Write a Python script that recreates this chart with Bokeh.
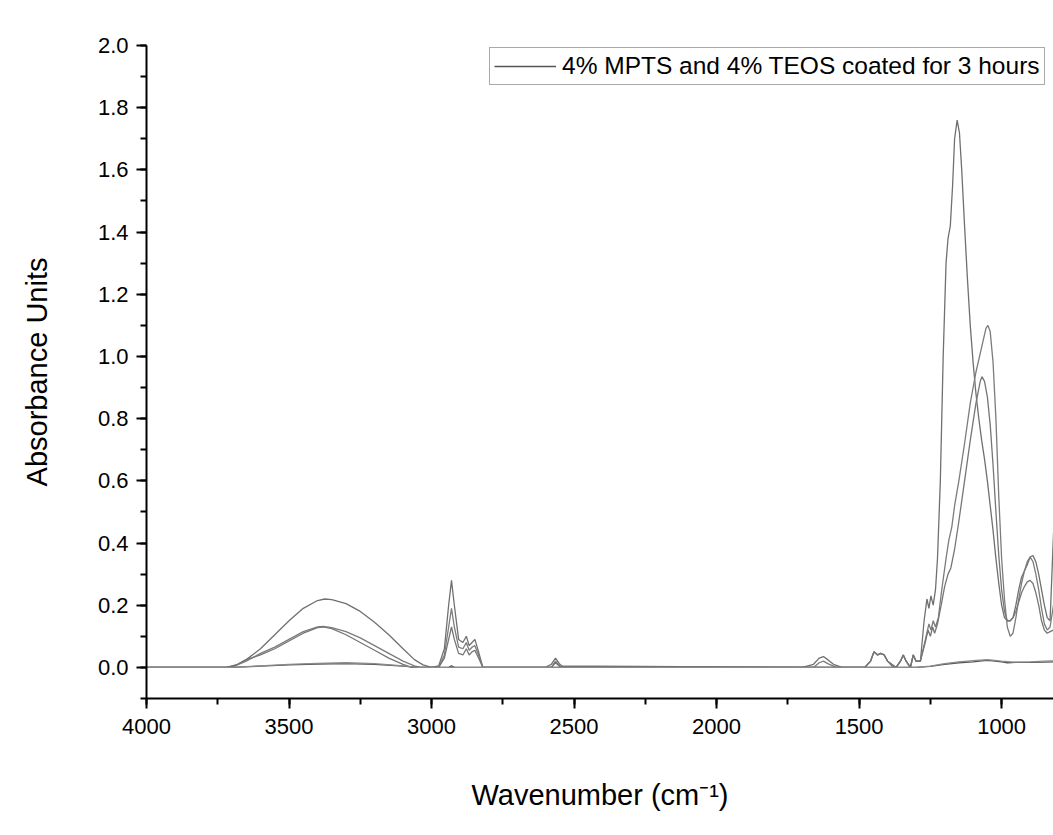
from bokeh.plotting import figure
from bokeh.models import Range1d, SingleIntervalTicker, NumeralTickFormatter, Legend, LegendItem
from bokeh.embed import file_html
from bokeh.resources import INLINE

# ---- data (wavenumber, absorbance) ----
wn_a = [4000, 3720, 3680, 3650, 3600, 3550, 3500, 3450, 3400, 3375, 3350, 3300, 3250, 3200, 3150, 3100,
        3060, 3030, 3000, 2975, 2955, 2940, 2930, 2920, 2905, 2890, 2878, 2868, 2858, 2848, 2835, 2820,
        2600, 2580, 2565, 2550, 2535, 1700, 1660, 1640, 1625, 1610, 1590, 1560, 1480, 1460, 1448, 1435,
        1425, 1412, 1400, 1385, 1370, 1355, 1345, 1335, 1320, 1310, 1300, 1285, 1272, 1262, 1255, 1248,
        1240, 1232, 1225, 1215, 1205, 1195, 1188, 1180, 1172, 1165, 1156, 1148, 1140, 1130, 1120, 1110,
        1100, 1090, 1080, 1070, 1060, 1050, 1040, 1030, 1020, 1010, 1000, 990, 980, 970, 960, 950, 940,
        930, 920, 910, 900, 890, 880, 870, 860, 850, 840, 830, 818, 800]
abs_a = [0, 0, 0.01, 0.025, 0.06, 0.105, 0.15, 0.19, 0.215, 0.22, 0.218, 0.205, 0.18, 0.145, 0.105, 0.06,
         0.025, 0.008, 0, 0.005, 0.06, 0.2, 0.28, 0.2, 0.09, 0.08, 0.10, 0.07, 0.08, 0.09, 0.05, 0,
         0, 0.01, 0.03, 0.01, 0, 0, 0.01, 0.03, 0.035, 0.025, 0.01, 0, 0, 0.02, 0.05, 0.04,
         0.045, 0.04, 0.02, 0.005, 0, 0.02, 0.04, 0.02, 0, 0.04, 0.02, 0.02, 0.15, 0.22, 0.19, 0.23,
         0.2, 0.25, 0.35, 0.6, 1.0, 1.3, 1.38, 1.42, 1.55, 1.7, 1.76, 1.72, 1.6, 1.42, 1.25, 1.1,
         0.98, 0.88, 0.8, 0.73, 0.67, 0.6, 0.52, 0.44, 0.35, 0.27, 0.2, 0.16, 0.15, 0.15, 0.16, 0.2, 0.25,
         0.29, 0.31, 0.33, 0.355, 0.36, 0.34, 0.3, 0.25, 0.2, 0.16, 0.15, 0.43, 0.55]

wn_b = [4000, 3720, 3690, 3650, 3600, 3550, 3500, 3450, 3400, 3380, 3350, 3300, 3250, 3200, 3150, 3100,
        3060, 3040, 2975, 2955, 2940, 2930, 2920, 2905, 2890, 2878, 2868, 2858, 2848, 2835, 2820,
        2580, 2565, 2550, 1660, 1640, 1625, 1610, 1580, 1480, 1460, 1448, 1435, 1425, 1412, 1400, 1370,
        1355, 1345, 1335, 1320, 1310, 1300, 1285, 1265, 1255, 1248, 1240, 1232, 1222, 1210, 1195, 1185,
        1175, 1165, 1150, 1130, 1110, 1090, 1070, 1055, 1048, 1040, 1030, 1020, 1010, 1000, 990, 980,
        970, 960, 950, 940, 930, 920, 910, 900, 890, 880, 870, 860, 850, 840, 830, 818, 800]
abs_b = [0, 0, 0.005, 0.02, 0.045, 0.065, 0.09, 0.115, 0.13, 0.132, 0.128, 0.115, 0.095, 0.07, 0.045, 0.02,
         0.005, 0, 0, 0.04, 0.13, 0.19, 0.13, 0.065, 0.06, 0.08, 0.055, 0.065, 0.07, 0.04, 0,
         0, 0.02, 0.005, 0, 0.015, 0.02, 0.012, 0, 0, 0.02, 0.05, 0.04, 0.045, 0.04, 0.02, 0,
         0.02, 0.04, 0.02, 0, 0.04, 0.02, 0.02, 0.1, 0.14, 0.12, 0.15, 0.13, 0.16, 0.25, 0.35, 0.41,
         0.45, 0.52, 0.6, 0.72, 0.85, 0.95, 1.03, 1.09, 1.10, 1.08, 0.98, 0.8, 0.55, 0.35, 0.22, 0.13,
         0.10, 0.11, 0.16, 0.22, 0.27, 0.31, 0.34, 0.355, 0.34, 0.3, 0.25, 0.19, 0.14, 0.12, 0.13, 0.2, 0.3]

wn_c = [4000, 3720, 3690, 3650, 3600, 3550, 3500, 3450, 3400, 3380, 3350, 3300, 3250, 3200, 3150, 3100,
        3070, 2975, 2955, 2940, 2930, 2920, 2905, 2890, 2878, 2868, 2858, 2848, 2835, 2820,
        2580, 2565, 2550, 1480, 1460, 1448, 1435, 1425, 1412, 1400, 1370, 1355, 1345, 1335, 1320, 1310,
        1300, 1285, 1268, 1258, 1250, 1242, 1235, 1225, 1212, 1200, 1188, 1178, 1165, 1150, 1130, 1110,
        1090, 1075, 1069, 1060, 1050, 1040, 1030, 1020, 1010, 1000, 990, 980, 970, 960, 950, 940, 930,
        920, 910, 900, 890, 880, 870, 860, 850, 840, 830, 818, 800]
abs_c = [0, 0, 0.005, 0.025, 0.04, 0.06, 0.085, 0.11, 0.128, 0.13, 0.125, 0.105, 0.08, 0.055, 0.03, 0.01,
         0, 0, 0.03, 0.09, 0.13, 0.09, 0.045, 0.04, 0.06, 0.04, 0.05, 0.055, 0.03, 0,
         0, 0.015, 0.003, 0, 0.02, 0.05, 0.04, 0.045, 0.04, 0.02, 0, 0.02, 0.04, 0.02, 0, 0.04,
         0.02, 0.02, 0.08, 0.12, 0.1, 0.13, 0.11, 0.14, 0.2, 0.26, 0.3, 0.32, 0.38, 0.47, 0.6, 0.73,
         0.85, 0.92, 0.935, 0.92, 0.87, 0.78, 0.65, 0.5, 0.36, 0.25, 0.18, 0.15, 0.15, 0.16, 0.18, 0.21, 0.24,
         0.26, 0.275, 0.28, 0.27, 0.24, 0.2, 0.15, 0.12, 0.11, 0.115, 0.12, 0.14]

wn_d = [4000, 3700, 3600, 3500, 3400, 3300, 3200, 3100, 3050, 2940, 2930, 2920, 1300, 1250, 1200, 1150,
        1100, 1060, 1040, 1000, 980, 950, 900, 850, 818, 800]
abs_d = [0, 0, 0.004, 0.008, 0.011, 0.012, 0.01, 0.004, 0, 0, 0.005, 0, 0, 0.003, 0.01, 0.015,
         0.018, 0.022, 0.022, 0.018, 0.015, 0.016, 0.016, 0.017, 0.018, 0.018]

wn_e = [4000, 3700, 3600, 3500, 3400, 3300, 3200, 3100, 3050, 1300, 1250, 1200, 1150, 1100, 1050, 1000,
        960, 900, 850, 818, 800]
abs_e = [0, 0, 0.005, 0.01, 0.013, 0.015, 0.012, 0.005, 0, 0, 0.004, 0.012, 0.018, 0.022, 0.025, 0.02,
         0.017, 0.018, 0.02, 0.021, 0.021]

legend_label = "4% MPTS and 4% TEOS coated for 3 hours"
x_title = "Wavenumber (cm\u207b\u00b9)"
y_title = "Absorbance Units"

p = figure(width=1053, height=835, output_backend="svg", toolbar_location=None,
           x_range=Range1d(4000, 818), y_range=Range1d(-0.1, 2.0),
           min_border_left=146, min_border_right=0, min_border_top=45, min_border_bottom=137)

p.outline_line_color = None
p.xgrid.visible = False
p.ygrid.visible = False
p.background_fill_color = "white"
p.border_fill_color = "white"

ra = p.line(wn_a, abs_a, line_color="#707070", line_width=1.3)
rb = p.line(wn_b, abs_b, line_color="#7c7c7c", line_width=1.3)
rc = p.line(wn_c, abs_c, line_color="#767676", line_width=1.3)
rd = p.line(wn_d, abs_d, line_color="#555555", line_width=1.3)
re_ = p.line(wn_e, abs_e, line_color="#8a8a8a", line_width=1.3)

p.xaxis.ticker = SingleIntervalTicker(interval=500, num_minor_ticks=2)
p.yaxis.ticker = SingleIntervalTicker(interval=0.2, num_minor_ticks=2)
p.xaxis.formatter = NumeralTickFormatter(format="0")
p.yaxis.formatter = NumeralTickFormatter(format="0.0")

for ax in (p.xaxis[0], p.yaxis[0]):
    ax.axis_line_width = 2
    ax.axis_line_color = "black"
    ax.major_tick_line_width = 2
    ax.minor_tick_line_width = 2
    ax.major_tick_out = 10
    ax.major_tick_in = 0
    ax.minor_tick_out = 6
    ax.minor_tick_in = 0
    ax.major_label_text_font = "Liberation Sans"
    ax.major_label_text_font_size = "22px"
    ax.major_label_text_color = "black"
    ax.axis_label_text_font = "Liberation Sans"
    ax.axis_label_text_font_size = "29px"
    ax.axis_label_text_font_style = "normal"
    ax.axis_label_text_color = "black"

p.xaxis.axis_label = x_title
p.yaxis.axis_label = y_title
p.xaxis.major_label_standoff = 10
p.yaxis.major_label_standoff = 8
p.xaxis.axis_label_standoff = 42
p.yaxis.axis_label_standoff = 42

legend = Legend(items=[LegendItem(label=legend_label, renderers=[rd])],
                location=(343, 613), orientation="vertical",
                border_line_color="#555555", border_line_width=1,
                background_fill_color="white", background_fill_alpha=1,
                label_text_font="Liberation Sans", label_text_font_size="24.5px",
                label_text_color="black", glyph_width=62, glyph_height=24,
                label_height=24, label_standoff=6, padding=4, spacing=0, margin=0)
p.add_layout(legend)

open("out.html", "w").write(file_html(p, INLINE))
